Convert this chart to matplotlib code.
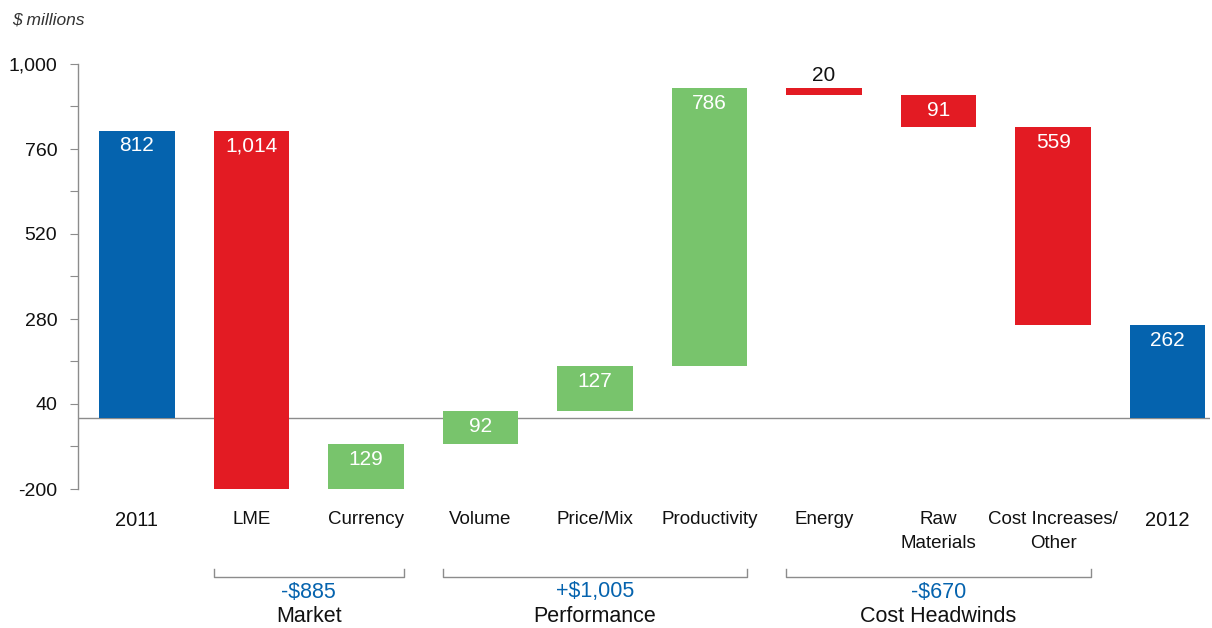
import matplotlib
matplotlib.use('Agg')
from matplotlib import pyplot as plt

# data
categories = ['2011', 'LME', 'Currency', 'Volume', 'Price/Mix', 'Productivity',
              'Energy', 'Raw\nMaterials', 'Cost Increases/\nOther', '2012']
changes = [812, -1014, 129, 92, 127, 786, -20, -91, -559, 262]
kinds = ['total', 'delta', 'delta', 'delta', 'delta', 'delta', 'delta', 'delta', 'delta', 'total']
value_labels = ['812', '1,014', '129', '92', '127', '786', '20', '91', '559', '262']
groups = [('-$885', 'Market', 1, 2), ('+$1,005', 'Performance', 3, 5), ('-$670', 'Cost Headwinds', 6, 8)]
yticks = [-200, 40, 280, 520, 760, 1000]
ytick_labels = ['-200', '40', '280', '520', '760', '1,000']

BLUE = '#0563ae'
RED = '#e31b23'
GREEN = '#78c46c'
GREY = '#8c8c8c'
INK = '#111111'

plt.rcParams['font.family'] = ['Liberation Sans', 'DejaVu Sans']

fig = plt.figure(figsize=(12.12, 6.28), dpi=100)
ax = fig.add_axes([78 / 1212, 1 - 489 / 628, (1210 - 78) / 1212, (489 - 64) / 628])
tr = matplotlib.transforms.blended_transform_factory(ax.transData, fig.transFigure)

width = 0.66
running = 0
for i, (c, k) in enumerate(zip(changes, kinds)):
    if k == 'total':
        bottom, top = 0, c
        color = BLUE
        running = c
    else:
        start = running
        running = running + c
        bottom, top = min(start, running), max(start, running)
        color = GREEN if c > 0 else RED
    ax.bar(i, top - bottom, bottom=bottom, width=width, color=color, zorder=2)
    if abs(top - bottom) < 40:
        ax.annotate(value_labels[i], (i, top), xytext=(0, 2), textcoords='offset points',
                    ha='center', va='bottom', fontsize=15, color=INK)
    else:
        ax.annotate(value_labels[i], (i, top), xytext=(0, -11), textcoords='offset points',
                    ha='center', va='center', fontsize=15, color='white')

ax.axhline(0, color=GREY, lw=1, zorder=1)
ax.set_xlim(-0.515, 9.37)
ax.set_ylim(-200, 1000)

for s in ['top', 'right', 'bottom']:
    ax.spines[s].set_visible(False)
ax.spines['left'].set_color(GREY)
ax.spines['left'].set_linewidth(1)

ax.set_yticks(yticks)
ax.set_yticklabels(ytick_labels, fontsize=14, color=INK)
ax.set_yticks([-80, 160, 400, 640, 880], minor=True)
ax.tick_params(axis='y', which='both', length=6, width=0.8, color=GREY, pad=9)
ax.set_xticks([])

# category labels
for i, name in enumerate(categories):
    if kinds[i] == 'total':
        ax.text(i, 1 - 521 / 628, name, transform=tr, ha='center', va='center',
                fontsize=14.5, color=INK)
    else:
        ax.text(i, 1 - 511 / 628, name, transform=tr, ha='center', va='top',
                fontsize=13.5, color=INK, linespacing=1.5)

# group brackets
yb = 1 - 577 / 628
ytick_b = 1 - 569 / 628
for total, name, a, b in groups:
    x0, x1 = a - width / 2, b + width / 2
    ax.plot([x0, x0, x1, x1], [ytick_b, yb, yb, ytick_b], transform=tr, color=GREY, lw=1, clip_on=False)
    xm = (a + b) / 2
    ax.text(xm, 1 - 592 / 628, total, transform=tr, ha='center', va='center', fontsize=15.5, color=BLUE)
    ax.text(xm, 1 - 616 / 628, name, transform=tr, ha='center', va='center', fontsize=15.5, color=INK)

fig.text(12 / 1212, 1 - 20 / 628, '$ millions', ha='left', va='center', fontsize=12.5,
         style='italic', color='#333333')

fig.savefig('out.png', dpi=100)
